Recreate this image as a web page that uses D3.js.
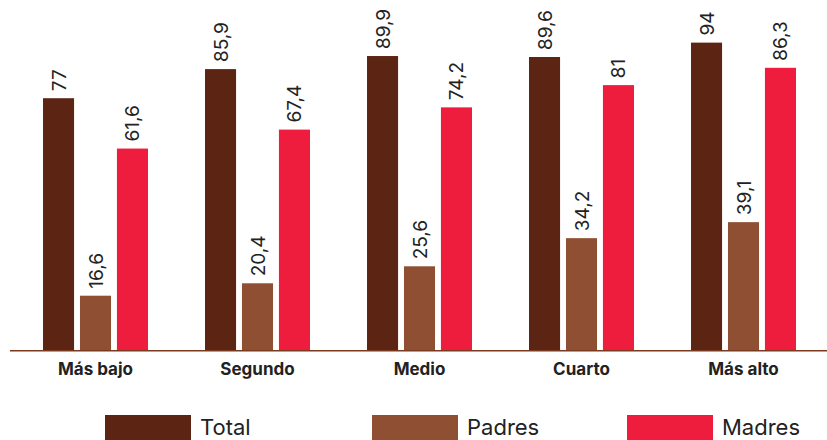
<!DOCTYPE html>
<html>
<head>
<meta charset="utf-8">
<script src="https://cdn.jsdelivr.net/npm/d3@7/dist/d3.min.js"></script>
<style>
  html, body { margin: 0; padding: 0; background: #fff; }
  svg { display: block; }
</style>
</head>
<body>
<svg id="chart" width="827" height="440"></svg>
<script>
// Quintile groups and the three series
const categories = ["Más bajo", "Segundo", "Medio", "Cuarto", "Más alto"];
const seriesNames = ["Total", "Padres", "Madres"];
const totalValues = [77, 85.9, 89.9, 89.6, 94];
const padresValues = [16.6, 20.4, 25.6, 34.2, 39.1];
const madresValues = [61.6, 67.4, 74.2, 81, 86.3];
const seriesColors = ["#5c2513", "#8f4f33", "#ee1c3d"];

const seriesValues = [totalValues, padresValues, madresValues];
const rows = categories.map((c, i) => ({
  category: c,
  values: seriesNames.map((s, j) => ({ series: s, value: seriesValues[j][i] }))
}));

const svg = d3.select("#chart");
const baseline = 350;

const x = d3.scaleBand()
  .domain(categories)
  .range([14.5, 824.5])
  .paddingInner(0.352)
  .paddingOuter(0.176);

const xInner = d3.scaleBand()
  .domain(seriesNames)
  .range([0, x.bandwidth()])
  .paddingInner(0.16)
  .paddingOuter(0);

const y = d3.scaleLinear()
  .domain([0, 100])
  .range([baseline, baseline - 327]);

const color = d3.scaleOrdinal().domain(seriesNames).range(seriesColors);
const fmt = v => String(v).replace(".", ",");

const groups = svg.append("g")
  .selectAll("g")
  .data(rows)
  .join("g")
  .attr("transform", d => `translate(${x(d.category)},0)`);

groups.selectAll("rect")
  .data(d => d.values)
  .join("rect")
  .attr("x", d => xInner(d.series))
  .attr("y", d => y(d.value))
  .attr("width", xInner.bandwidth())
  .attr("height", d => baseline - y(d.value))
  .attr("fill", d => color(d.series));

// Rotated value labels above each bar
groups.selectAll("text.val")
  .data(d => d.values)
  .join("text")
  .attr("class", "val")
  .attr("transform", d => `translate(${xInner(d.series) + xInner.bandwidth() / 2 + 7},${y(d.value) - 7}) rotate(-90)`)
  .attr("text-anchor", "start")
  .attr("font-family", "Inter, 'Noto Sans', sans-serif")
  .attr("font-size", 19)
  .attr("fill", "#222")
  .text(d => fmt(d.value));

// Baseline axis with category names
const axis = d3.axisBottom(x).tickSize(0).tickPadding(0);
const axisG = svg.append("g")
  .attr("transform", `translate(0,${baseline})`)
  .call(axis);
axisG.select(".domain").remove();
axisG.selectAll(".tick text")
  .attr("y", 25)
  .attr("dy", 0)
  .attr("font-family", "Inter, 'Noto Sans', sans-serif")
  .attr("font-size", 17)
  .attr("font-weight", 700)
  .attr("fill", "#222");

svg.append("line")
  .attr("x1", 10).attr("x2", 827)
  .attr("y1", baseline + 0.75).attr("y2", baseline + 0.75)
  .attr("stroke", "#7a3a20")
  .attr("stroke-width", 1.5);

// Legend
const legendX = [105, 372, 627];
const legend = svg.append("g")
  .selectAll("g")
  .data(seriesNames)
  .join("g")
  .attr("transform", (d, i) => `translate(${legendX[i]},415)`);
legend.append("rect")
  .attr("width", 86).attr("height", 30)
  .attr("fill", d => color(d));
legend.append("text")
  .attr("x", 95)
  .attr("y", 20)
  .attr("font-family", "Inter, 'Noto Sans', sans-serif")
  .attr("font-size", 22)
  .attr("fill", "#222")
  .text(d => d);
</script>
</body>
</html>
